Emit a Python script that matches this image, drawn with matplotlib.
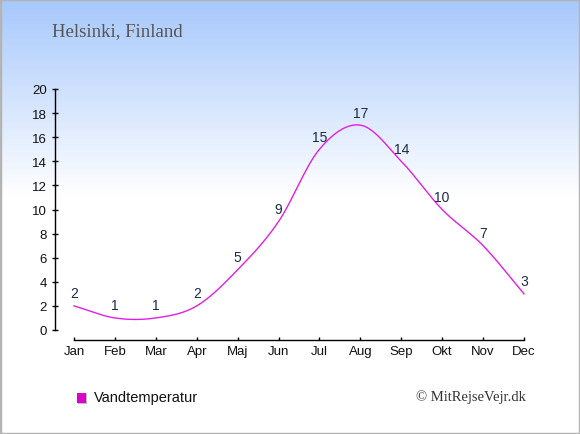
import numpy as np
import matplotlib
matplotlib.use("Agg")
import matplotlib.pyplot as plt
from matplotlib.patches import Rectangle

months = ["Jan", "Feb", "Mar", "Apr", "Maj", "Jun", "Jul", "Aug", "Sep", "Okt", "Nov", "Dec"]
water_temp = [2, 1, 1, 2, 5, 9, 15, 17, 14, 10, 7, 3]
yticks = [0, 2, 4, 6, 8, 10, 12, 14, 16, 18, 20]
title = "Helsinki, Finland"
legend_label = "Vandtemperatur"
credit = "© MitRejseVejr.dk"

W, H = 580, 435
PX = 72.0 / 100.0  # points per pixel at dpi 100
fig = plt.figure(figsize=(W / 100, H / 100), dpi=100)

# background gradient
bg = fig.add_axes([0, 0, 1, 1], zorder=-10)
n = 435
grad = np.ones((n, 1, 3))
top = np.array([0xa6, 0xc8, 0xfc]) / 255.0
for i in range(n):
    f = min(i / 197.0, 1.0)
    grad[i, 0, :] = top * (1 - f) + np.ones(3) * f
bg.imshow(grad, aspect="auto", extent=[0, 1, 0, 1], origin="upper")
bg.set_xlim(0, 1)
bg.set_ylim(0, 1)
bg.axis("off")
bg.add_patch(Rectangle((0, 0), 1, 1, transform=bg.transAxes, fill=False,
                       edgecolor="#b4b4b4", linewidth=2.5))

ax = fig.add_axes([74 / W, 104 / H, 450 / W, 241 / H])
ax.patch.set_alpha(0)

x = np.arange(len(water_temp), dtype=float)
y = np.array(water_temp, dtype=float)

# Catmull-Rom smoothing for drawing
m = np.zeros_like(y)
m[1:-1] = (y[2:] - y[:-2]) / 2.0
m[0] = (y[1] - y[0])
m[-1] = (y[-1] - y[-2])
xs, ys = [], []
t = np.linspace(0, 1, 40)
for i in range(len(y) - 1):
    h00 = 2 * t**3 - 3 * t**2 + 1
    h10 = t**3 - 2 * t**2 + t
    h01 = -2 * t**3 + 3 * t**2
    h11 = t**3 - t**2
    xs.append(x[i] + t)
    ys.append(h00 * y[i] + h10 * m[i] + h01 * y[i + 1] + h11 * m[i + 1])
xs = np.concatenate(xs)
ys = np.concatenate(ys)
ax.plot(xs, ys, color="#e020e0", linewidth=1.0, clip_on=False)

for xi, yi in zip(x, water_temp):
    ax.annotate(str(yi), (xi, yi), xytext=(0, 5.5 * PX), textcoords="offset points",
                ha="center", va="bottom", fontsize=10, color="#1c2a48",
                family="Liberation Sans")

ax.set_xlim(0, 11)
ax.set_ylim(0, 20)
ax.set_xticks(x)
ax.set_xticklabels(months)
ax.set_yticks(yticks)
for s in ["top", "right"]:
    ax.spines[s].set_visible(False)
ax.spines["left"].set_position(("outward", 19 * PX))
ax.spines["bottom"].set_position(("outward", 10 * PX))
ax.spines["left"].set_bounds(0, 20)
ax.spines["bottom"].set_bounds(0, 11)
for s in ["left", "bottom"]:
    ax.spines[s].set_color("black")
    ax.spines[s].set_linewidth(1.0)
ax.tick_params(axis="y", direction="inout", length=6 * PX, width=1, labelsize=9.5,
               pad=5 * PX, colors="black")
ax.tick_params(axis="x", direction="in", length=3 * PX, width=1, labelsize=9.5,
               pad=5 * PX, colors="black")
for lab in ax.get_xticklabels() + ax.get_yticklabels():
    lab.set_family("Liberation Sans")
    lab.set_color("#111111")

fig.text(52 / W, 1 - 32 / H, title, family="Liberation Serif", fontsize=13.5,
         color="#555555", ha="left", va="center")

fig.patches.append(Rectangle((78 / W, 1 - 405 / H), 9 / W, 10 / H,
                             transform=fig.transFigure, facecolor="#bbbbbb",
                             edgecolor="none"))
fig.patches.append(Rectangle((77 / W, 1 - 404 / H), 9 / W, 10 / H,
                             transform=fig.transFigure, facecolor="#dd00cc",
                             edgecolor="none"))
fig.text(94 / W, 1 - 398 / H, legend_label, family="Liberation Sans",
         fontsize=10.5, color="#111111", ha="left", va="center")
fig.text(526 / W, 1 - 397 / H, credit, family="Liberation Serif",
         fontsize=10.5, color="#333333", ha="right", va="center")

fig.savefig("out.png", dpi=100)
